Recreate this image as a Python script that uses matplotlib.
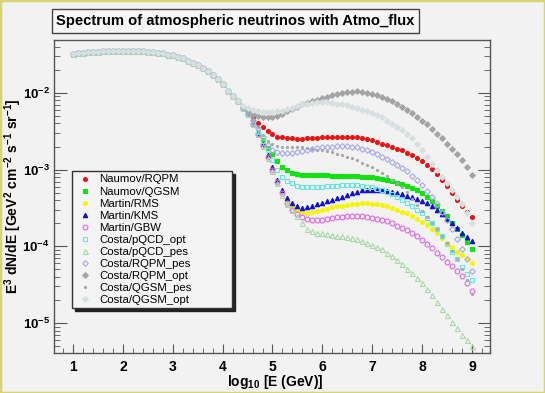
import numpy as np
import matplotlib
matplotlib.use("Agg")
import matplotlib.pyplot as plt
from matplotlib.patches import Rectangle
from matplotlib.ticker import LogLocator, MultipleLocator, NullFormatter

plt.rcParams['font.family'] = ['Liberation Sans', 'DejaVu Sans']
plt.rcParams['mathtext.fontset'] = 'custom'
plt.rcParams['mathtext.rm'] = 'Liberation Sans:bold'
plt.rcParams['mathtext.bf'] = 'Liberation Sans:bold'
plt.rcParams['mathtext.it'] = 'Liberation Sans:bold'
plt.rcParams['mathtext.default'] = 'bf'

# log10(E/GeV) grid, step 0.1
log_e = np.round(np.arange(1.0, 9.05, 0.1), 1)

# log10 of E^3 dN/dE, shared by every model for log10 E = 1.0 ... 4.3
common_head = [-1.49, -1.48, -1.475, -1.47, -1.465, -1.46, -1.455, -1.45, -1.45, -1.45,
               -1.45, -1.45, -1.45, -1.45, -1.455, -1.46, -1.465, -1.475, -1.485, -1.50,
               -1.51, -1.53, -1.55, -1.58, -1.61, -1.64, -1.67, -1.71, -1.76, -1.82,
               -1.89, -1.97, -2.04, -2.11]

# per-model log10 values for log10 E = 4.4 ... 9.0
naumov_rqpm = [-2.18, -2.25, -2.32, -2.39, -2.45, -2.50, -2.54, -2.57, -2.58, -2.59,
               -2.59, -2.60, -2.60, -2.59, -2.59, -2.59, -2.58, -2.58, -2.57, -2.57,
               -2.57, -2.57, -2.57, -2.58, -2.59, -2.60, -2.62, -2.64, -2.66, -2.68,
               -2.70, -2.73, -2.75, -2.78, -2.81, -2.85, -2.89, -2.94, -2.99, -3.06,
               -3.13, -3.21, -3.30, -3.39, -3.47, -3.55, -3.62]
naumov_qgsm = [-2.19, -2.27, -2.38, -2.52, -2.62, -2.72, -2.80, -2.89, -2.96, -3.01,
               -3.04, -3.06, -3.07, -3.07, -3.07, -3.07, -3.07, -3.07, -3.08, -3.08,
               -3.08, -3.08, -3.08, -3.08, -3.09, -3.09, -3.10, -3.11, -3.12, -3.13,
               -3.15, -3.17, -3.19, -3.21, -3.24, -3.27, -3.31, -3.36, -3.41, -3.47,
               -3.54, -3.61, -3.69, -3.77, -3.85, -3.94, -4.03]
martin_rms = [-2.19, -2.28, -2.39, -2.52, -2.66, -2.82, -2.98, -3.14, -3.29, -3.41,
              -3.48, -3.53, -3.55, -3.56, -3.55, -3.54, -3.52, -3.51, -3.49, -3.48,
              -3.47, -3.46, -3.45, -3.45, -3.44, -3.44, -3.45, -3.45, -3.46, -3.48,
              -3.50, -3.52, -3.55, -3.57, -3.60, -3.64, -3.68, -3.72, -3.77, -3.83,
              -3.89, -3.95, -4.01, -4.07, -4.11, -4.16, -4.22]
martin_kms = [-2.19, -2.28, -2.39, -2.52, -2.66, -2.81, -2.97, -3.13, -3.26, -3.37,
              -3.44, -3.48, -3.50, -3.49, -3.47, -3.45, -3.43, -3.41, -3.39, -3.37,
              -3.35, -3.33, -3.31, -3.29, -3.27, -3.26, -3.26, -3.26, -3.27, -3.28,
              -3.29, -3.31, -3.32, -3.34, -3.36, -3.38, -3.41, -3.44, -3.48, -3.53,
              -3.58, -3.64, -3.70, -3.76, -3.82, -3.88, -3.93]
martin_gbw = [-2.19, -2.28, -2.40, -2.53, -2.68, -2.84, -3.00, -3.16, -3.31, -3.43,
              -3.52, -3.58, -3.62, -3.64, -3.65, -3.65, -3.65, -3.64, -3.63, -3.62,
              -3.62, -3.61, -3.61, -3.61, -3.61, -3.62, -3.63, -3.64, -3.65, -3.67,
              -3.70, -3.73, -3.76, -3.79, -3.83, -3.87, -3.92, -3.97, -4.02, -4.08,
              -4.14, -4.20, -4.26, -4.32, -4.39, -4.48, -4.58]
costa_pqcd_opt = [-2.19, -2.28, -2.39, -2.51, -2.63, -2.75, -2.88, -3.00, -3.09, -3.15,
                  -3.18, -3.21, -3.22, -3.22, -3.22, -3.22, -3.22, -3.21, -3.21, -3.21,
                  -3.20, -3.20, -3.20, -3.20, -3.21, -3.22, -3.23, -3.25, -3.27, -3.29,
                  -3.32, -3.36, -3.40, -3.44, -3.48, -3.52, -3.57, -3.63, -3.70, -3.78,
                  -3.87, -3.97, -4.07, -4.17, -4.27, -4.36, -4.44]
costa_pqcd_pes = [-2.19, -2.28, -2.40, -2.54, -2.69, -2.85, -3.02, -3.18, -3.33, -3.45,
                  -3.52, -3.61, -3.70, -3.77, -3.80, -3.82, -3.83, -3.84, -3.85, -3.86,
                  -3.87, -3.88, -3.89, -3.91, -3.93, -3.95, -3.98, -4.01, -4.04, -4.08,
                  -4.13, -4.18, -4.23, -4.29, -4.35, -4.41, -4.48, -4.56, -4.64, -4.73,
                  -4.81, -4.90, -4.98, -5.06, -5.15, -5.22, -5.30]
costa_rqpm_pes = [-2.18, -2.26, -2.35, -2.46, -2.58, -2.68, -2.74, -2.77, -2.78, -2.78,
                  -2.78, -2.77, -2.76, -2.74, -2.73, -2.72, -2.71, -2.70, -2.70, -2.69,
                  -2.69, -2.69, -2.70, -2.71, -2.73, -2.75, -2.77, -2.80, -2.83, -2.86,
                  -2.90, -2.94, -2.98, -3.02, -3.08, -3.14, -3.20, -3.28, -3.36, -3.45,
                  -3.55, -3.66, -3.78, -3.90, -4.03, -4.17, -4.32]
costa_rqpm_opt = [-2.18, -2.23, -2.27, -2.30, -2.32, -2.32, -2.32, -2.30, -2.27, -2.24,
                  -2.21, -2.18, -2.15, -2.13, -2.11, -2.09, -2.07, -2.05, -2.03, -2.01,
                  -2.00, -1.99, -1.99, -1.98, -1.99, -2.00, -2.01, -2.03, -2.05, -2.08,
                  -2.11, -2.14, -2.18, -2.22, -2.26, -2.31, -2.36, -2.41, -2.47, -2.53,
                  -2.59, -2.66, -2.73, -2.80, -2.88, -2.97, -3.07]
costa_qgsm_pes = [-2.18, -2.26, -2.35, -2.45, -2.55, -2.63, -2.67, -2.69, -2.70, -2.70,
                  -2.70, -2.70, -2.71, -2.72, -2.73, -2.74, -2.75, -2.76, -2.77, -2.79,
                  -2.81, -2.83, -2.85, -2.88, -2.91, -2.94, -2.97, -3.00, -3.04, -3.08,
                  -3.13, -3.18, -3.23, -3.29, -3.38, -3.46, -3.54, -3.62, -3.70, -3.78,
                  -3.87, -3.96, -4.06, -4.17, -4.29, -4.44, -4.62]
costa_qgsm_opt = [-2.17, -2.20, -2.22, -2.24, -2.25, -2.25, -2.25, -2.24, -2.23, -2.21,
                  -2.19, -2.17, -2.15, -2.14, -2.13, -2.12, -2.12, -2.12, -2.13, -2.14,
                  -2.15, -2.16, -2.18, -2.20, -2.22, -2.24, -2.26, -2.29, -2.32, -2.36,
                  -2.40, -2.44, -2.48, -2.53, -2.59, -2.66, -2.74, -2.83, -2.92, -3.01,
                  -3.10, -3.18, -3.26, -3.35, -3.45, -3.57, -3.69]

labels = ['Naumov/RQPM', 'Naumov/QGSM', 'Martin/RMS', 'Martin/KMS', 'Martin/GBW',
          'Costa/pQCD_opt', 'Costa/pQCD_pes', 'Costa/RQPM_pes', 'Costa/RQPM_opt',
          'Costa/QGSM_pes', 'Costa/QGSM_opt']
tails = [naumov_rqpm, naumov_qgsm, martin_rms, martin_kms, martin_gbw,
         costa_pqcd_opt, costa_pqcd_pes, costa_rqpm_pes, costa_rqpm_opt,
         costa_qgsm_pes, costa_qgsm_opt]

# marker, size, colour, filled
styles = [('o', 2.8, '#ee1111', True),
          ('s', 3.0, '#11e011', True),
          ('o', 2.8, '#f6f600', True),
          ('^', 3.2, '#1010cc', True),
          ('o', 3.5, '#e266e2', False),
          ('s', 3.5, '#66e4e4', False),
          ('^', 3.6, '#a8d8a8', False),
          ('D', 2.9, '#a8a8e8', False),
          ('D', 2.9, '#a4a4a4', True),
          ('.', 3.0, '#a8a8a8', True),
          ('D', 2.9, '#d6e0e0', True)]

bg = '#f2f2f2'
fig = plt.figure(figsize=(5.45, 3.93), dpi=100, facecolor=bg)
ax = fig.add_axes([54 / 545, 1 - 353 / 393, 436 / 545, 313 / 393])
ax.set_facecolor(bg)

for lab, tail, (m, ms, c, filled) in zip(labels, tails, styles):
    y = 10 ** np.array(common_head + tail)
    ax.plot(log_e, y, linestyle='none', marker=m, markersize=ms,
            color=c, markeredgecolor=c, markerfacecolor=c if filled else 'none',
            markeredgewidth=0.8, label=lab)

ax.set_yscale('log')
ax.set_xlim(0.62, 9.36)
ax.set_ylim(10 ** -5.39, 10 ** -1.31)

ax.set_yticks([1e-5, 1e-4, 1e-3, 1e-2])
ax.set_yticklabels([r'$10^{-5}$', r'$10^{-4}$', r'$10^{-3}$', r'$10^{-2}$'])
ax.yaxis.set_minor_locator(LogLocator(base=10, subs=np.arange(2, 10)))
ax.yaxis.set_minor_formatter(NullFormatter())
ax.xaxis.set_minor_locator(MultipleLocator(0.2))
ax.set_xticks(range(1, 10))
ax.set_xticklabels([str(i) for i in range(1, 10)], fontweight='bold')

for s in ax.spines.values():
    s.set_color('#555555')
    s.set_linewidth(1.0)
ax.tick_params(axis='y', which='both', direction='in', left=True, right=True,
               colors='#555555', labelcolor='black', labelsize=9.5, pad=3)
ax.tick_params(axis='y', which='major', length=9)
ax.tick_params(axis='y', which='minor', length=4.5)
ax.tick_params(axis='x', which='both', direction='in', top=False,
               colors='#555555', labelcolor='black', labelsize=10, pad=5)
ax.tick_params(axis='x', which='major', length=6.5)
ax.tick_params(axis='x', which='minor', length=3.5)

ax.set_ylabel(r'$E^{3}\ dN/dE\ [GeV^{2}\ cm^{-2}\ s^{-1}\ sr^{-1}]$', fontsize=10)
ax.yaxis.set_label_coords(-0.094, 0.5)
ax.yaxis.label.set_va('center')
ax.set_xlabel(r'log$_{10}$ [E (GeV)]', fontsize=10, fontweight='bold')
ax.xaxis.set_label_coords(0.507, -0.092)
ax.xaxis.label.set_va('center')

leg = ax.legend(loc='upper left', mode='expand',
                bbox_to_anchor=(72 / 545, 1 - 175 / 393, 160 / 545, 0.01),
                bbox_transform=fig.transFigure, borderaxespad=0,
                fontsize=8.2, handlelength=1.6, handletextpad=0.5,
                labelspacing=0.18, borderpad=0.3, fancybox=False,
                framealpha=1, facecolor='#f4f4f4', edgecolor='#333333',
                shadow={'color': '#222222', 'alpha': 1})
leg.get_frame().set_linewidth(1.0)

fig.text(235.5 / 545, 1 - 21 / 393, 'Spectrum of atmospheric neutrinos with Atmo_flux',
         ha='center', va='center', fontsize=10.6, fontweight='bold',
         bbox=dict(boxstyle='square,pad=0.32', facecolor='#f6f6f6',
                   edgecolor='#444444', linewidth=1.0))

fig.patches.append(Rectangle((0, 0), 1, 1, transform=fig.transFigure, fill=False,
                             edgecolor='#d8d470', linewidth=2.5))

fig.savefig('out.png', dpi=100, facecolor=bg)
